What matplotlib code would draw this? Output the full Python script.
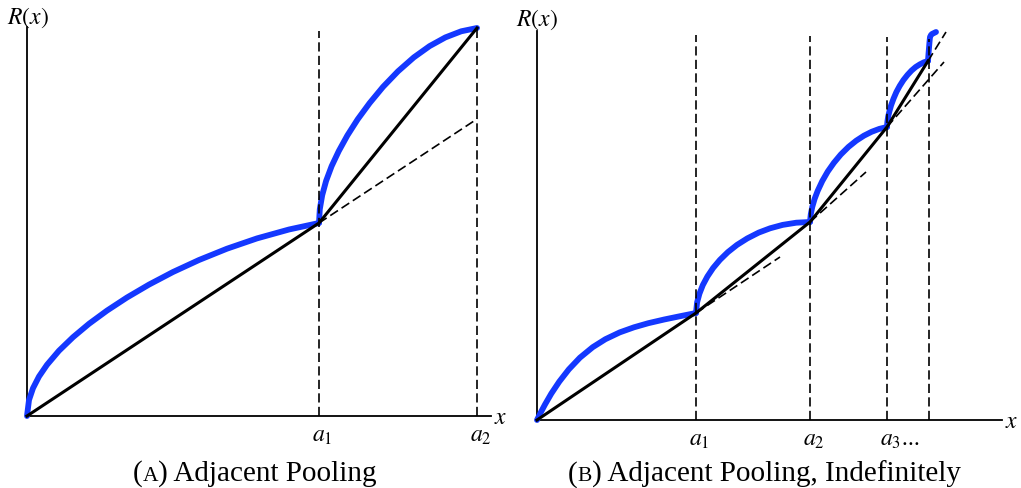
import matplotlib
matplotlib.use("Agg")
import matplotlib.pyplot as plt
from matplotlib.offsetbox import TextArea, HPacker, AnnotationBbox

plt.rcParams["mathtext.fontset"] = "stix"
plt.rcParams["font.family"] = ["Liberation Serif", "DejaVu Serif"]

BLUE = "#1438ff"

# ---- panel A data (units: pixels measured from the origin) ----
ticks_A = [292, 450]
tick_labels_A = [r"$a_1$", r"$a_2$"]
vtop_A = [385, 388]
chord_A_x = [0, 292, 450]
chord_A_y = [0, 193, 388]
arcA1_x = [0, 2, 6, 12, 20, 32, 46, 62, 80, 100, 122, 146, 172, 200, 230, 262, 292]
arcA1_y = [0, 16.0, 27.8, 39.5, 51.2, 65.3, 78.8, 92.2, 105.4, 118.5, 131.4, 144.0, 156.0,
           167.3, 177.6, 186.5, 193]
arcA2_x = [292, 292.8, 295.2, 299.1, 304.6, 311.8, 320.4, 330.7, 342.6, 356.0, 371.0, 386.8,
           402.6, 418.4, 434.2, 450]
arcA2_y = [193, 206.8, 220.8, 235.1, 249.8, 265.0, 280.6, 296.7, 312.9, 329.1, 344.7, 358.6,
           369.9, 378.6, 384.7, 388]
extA_x = [292, 450]
extA_y = [193, 297]

# ---- panel B data ----
ticks_B = [159, 273, 350, 392]
tick_labels_B = [r"$a_1$", r"$a_2$", r"$a_3$...", ""]
vtop_B = [385, 384, 383, 381]
chord_B_x = [0, 159, 273, 350, 391]
chord_B_y = [0, 107, 198, 293, 359]
arcB_x = [
    [0, 3.2, 8.0, 14.3, 22.3, 31.8, 42.9, 55.7, 68.4, 82.7, 97.0, 111.3, 127.2, 143.1, 159],
    [159, 160.1, 162.4, 165.8, 170.4, 176.1, 182.9, 190.9, 200.0, 210.3, 221.7, 233.1, 245.6,
     259.3, 273],
    [273, 273.8, 275.3, 277.6, 280.7, 285.3, 290.7, 296.9, 303.8, 311.5, 319.2, 326.9, 334.6,
     342.3, 350],
    [350, 350.4, 351.2, 352.5, 354.1, 356.6, 359.4, 362.7, 366.4, 370.5, 374.6, 378.7, 382.8,
     386.9, 391],
    [391, 391.5, 392, 392.5, 393, 394, 395, 397, 399],
]
arcB_y = [
    [0, 6.5, 15.5, 26.4, 38.4, 50.6, 62.3, 72.8, 80.8, 87.6, 92.7, 96.8, 100.5, 103.8, 107],
    [107, 117.6, 126.2, 134.9, 143.5, 152.0, 160.1, 167.9, 175.1, 181.6, 187.4, 191.7, 195.1,
     197.3, 198],
    [198, 205.8, 213.2, 221.1, 229.2, 239.0, 248.4, 257.2, 265.5, 273.1, 279.3, 284.3, 288.2,
     291.1, 293],
    [293, 298.4, 303.6, 309.0, 314.7, 321.5, 328.0, 334.1, 339.9, 345.1, 349.5, 353.0, 355.6,
     357.7, 359],
    [359, 366, 372, 378, 383, 385, 386, 387, 388],
]
extB = [
    ([159, 243], [107, 163]),
    ([273, 329], [198, 248]),
    ([350, 407], [293, 358]),
    ([391, 409], [359, 388]),
]

fig = plt.figure(figsize=(10.21, 4.89), dpi=100)
axA = fig.add_axes([0, 0, 510 / 1021, 1])
axB = fig.add_axes([510 / 1021, 0, 511 / 1021, 1])
axA.set_xlim(-27, 483)
axA.set_ylim(-72, 417)
axB.set_xlim(-27, 484)
axB.set_ylim(-68, 421)

dash = (0, (5.5, 2.6))


def frame(ax, xend, ytop, xlab_x, rlab_dx, rlab_dy):
    ax.set_axis_off()
    ax.plot([0, xend], [0, 0], color="k", lw=1.3, zorder=1)
    ax.plot([0, 0], [0, ytop], color="k", lw=1.3, zorder=1)
    ax.text(rlab_dx, ytop + rlab_dy, "$R(x)$", fontsize=17, ha="center", va="bottom")
    ax.text(xlab_x, -2, "$x$", fontsize=17, ha="center", va="center")


def ticks(ax, xs, labels, tops):
    for x, lab, top in zip(xs, labels, tops):
        ax.plot([x, x], [0, top], color="k", lw=1.2, ls=dash, zorder=4)
        if lab:
            ax.text(x - 7, -9, lab, fontsize=17, ha="left", va="top")


def caption(ax, letter, rest, xc, yc):
    parts = [
        TextArea("(", textprops=dict(fontsize=21)),
        TextArea(letter, textprops=dict(fontsize=15.5)),
        TextArea(") " + rest, textprops=dict(fontsize=21)),
    ]
    box = HPacker(children=parts, align="baseline", pad=0, sep=0)
    ab = AnnotationBbox(box, (xc, yc), xycoords="data", frameon=False,
                        box_alignment=(0.5, 0.5))
    ax.add_artist(ab)


# panel A
frame(axA, 464, 389, 474, 1, -2)
axA.plot(arcA1_x, arcA1_y, color=BLUE, lw=4.2, solid_capstyle="round",
         solid_joinstyle="round", zorder=2)
axA.plot(arcA2_x, arcA2_y, color=BLUE, lw=4.2, solid_capstyle="round",
         solid_joinstyle="round", zorder=2)
axA.plot(chord_A_x, chord_A_y, color="k", lw=2.2, zorder=3)
axA.plot(extA_x, extA_y, color="k", lw=1.2, ls=dash, zorder=3)
ticks(axA, ticks_A, tick_labels_A, vtop_A)
caption(axA, "A", "Adjacent Pooling", 228, -57)

# panel B
frame(axB, 465, 389, 475, 0, 0)
for xs, ys in zip(arcB_x, arcB_y):
    axB.plot(xs, ys, color=BLUE, lw=4.2, solid_capstyle="round",
             solid_joinstyle="round", zorder=2)
axB.plot(chord_B_x, chord_B_y, color="k", lw=2.2, zorder=3)
for xs, ys in extB:
    axB.plot(xs, ys, color="k", lw=1.2, ls=dash, zorder=3)
ticks(axB, ticks_B, tick_labels_B, vtop_B)
caption(axB, "B", "Adjacent Pooling, Indefinitely", 227, -53)

fig.savefig("out.png", dpi=100)
